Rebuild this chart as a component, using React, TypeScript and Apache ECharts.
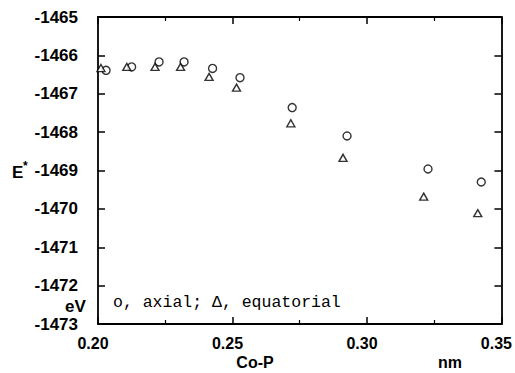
import React, { useEffect, useRef } from "react";
import * as echarts from "echarts";

const axialX = [0.203, 0.2125, 0.2227, 0.232, 0.2426, 0.2528, 0.2722, 0.2926, 0.3227, 0.3425];
const axialE = [-1466.39, -1466.3, -1466.17, -1466.17, -1466.34, -1466.58, -1467.36, -1468.1, -1468.96, -1469.3];
const equatorialX = [0.2011, 0.2107, 0.2212, 0.2307, 0.2413, 0.2515, 0.2717, 0.2911, 0.3211, 0.3412];
const equatorialE = [-1466.33, -1466.3, -1466.3, -1466.3, -1466.56, -1466.84, -1467.77, -1468.67, -1469.68, -1470.11];

const xMin = 0.2;
const xMax = 0.35;
const xInterval = 0.05;
const yMin = -1473;
const yMax = -1465;
const yInterval = 1;

const legendText = "o, axial; Δ, equatorial";
const xTitle = "Co-P";
const xUnit = "nm";
const yTitle = "E";
const yUnit = "eV";

const FONT = "'Liberation Sans', Arial, Helvetica, sans-serif";

export default function App() {
  const ref = useRef<HTMLDivElement>(null);
  useEffect(() => {
    if (!ref.current) return;
    const chart = echarts.init(ref.current, null, { renderer: "svg" });
    const lineStyle = { color: "#000", width: 1.8 };
    const xCommon = {
      type: "value" as const,
      min: xMin,
      max: xMax,
      interval: xInterval,
      splitLine: { show: false },
      axisLine: { show: true, onZero: false, lineStyle },
      axisTick: { show: true, inside: true, length: 7, lineStyle: { color: "#000", width: 1.5 } },
      minorTick: { show: true, splitNumber: 2, length: 4, lineStyle: { color: "#000", width: 1.2 } },
    };
    const yCommon = {
      type: "value" as const,
      min: yMin,
      max: yMax,
      interval: yInterval,
      splitLine: { show: false },
      axisLine: { show: true, onZero: false, lineStyle },
      axisTick: { show: true, inside: true, length: 7, lineStyle: { color: "#000", width: 1.5 } },
    };
    chart.setOption({
      animation: false,
      backgroundColor: "#fff",
      grid: { left: 98, right: 13, top: 17, bottom: 49, containLabel: false },
      xAxis: [
        {
          ...xCommon,
          position: "bottom",
          axisLabel: {
            show: true,
            margin: 11,
            color: "#000",
            fontFamily: FONT,
            fontWeight: "bold",
            fontSize: 16,
            padding: [0, 10, 0, 0],
            showMinLabel: true,
            showMaxLabel: true,
            formatter: (v: number) => v.toFixed(2),
          },
        },
        { ...xCommon, position: "top", axisLabel: { show: false } },
      ],
      yAxis: [
        {
          ...yCommon,
          position: "left",
          axisLabel: {
            show: true,
            margin: 20,
            color: "#000",
            fontFamily: FONT,
            fontWeight: "bold",
            fontSize: 17,
            padding: [5, 0, 0, 0],
            showMinLabel: true,
            showMaxLabel: true,
            formatter: (v: number) => String(Math.round(v)),
          },
        },
        { ...yCommon, position: "right", axisLabel: { show: false } },
      ],
      series: [
        {
          type: "scatter",
          name: "axial",
          symbol: "circle",
          symbolSize: 8,
          itemStyle: { color: "#fff", borderColor: "#000", borderWidth: 1.4 },
          data: axialX.map((x, i) => [x, axialE[i]]),
        },
        {
          type: "scatter",
          name: "equatorial",
          symbol: "triangle",
          symbolSize: [8, 7],
          itemStyle: { color: "#fff", borderColor: "#000", borderWidth: 1.4 },
          data: equatorialX.map((x, i) => [x, equatorialE[i]]),
        },
      ],
      graphic: [
        {
          type: "text",
          left: 12,
          top: 164,
          style: { text: yTitle, fill: "#000", font: `bold 17px ${FONT}` },
        },
        {
          type: "text",
          left: 23,
          top: 160,
          style: { text: "*", fill: "#000", font: `bold 12px ${FONT}` },
        },
        {
          type: "text",
          left: 65,
          top: 298,
          style: { text: yUnit, fill: "#000", font: `bold 17px ${FONT}` },
        },
        {
          type: "text",
          x: 255,
          y: 362,
          style: { text: xTitle, fill: "#000", font: `bold 16px ${FONT}`, align: "center", verticalAlign: "middle" },
        },
        {
          type: "text",
          x: 450,
          y: 362,
          style: { text: xUnit, fill: "#000", font: `bold 16px ${FONT}`, align: "center", verticalAlign: "middle" },
        },
        {
          type: "text",
          x: 113,
          y: 302,
          style: {
            text: legendText,
            fill: "#000",
            font: `16.5px 'Liberation Mono', 'DejaVu Sans Mono', monospace`,
            verticalAlign: "middle",
          },
        },
      ],
    });
    return () => chart.dispose();
  }, []);
  return (
    <div
      ref={ref}
      style={{ position: "fixed", left: 0, top: 0, width: 515, height: 373, background: "#fff" }}
    />
  );
}
